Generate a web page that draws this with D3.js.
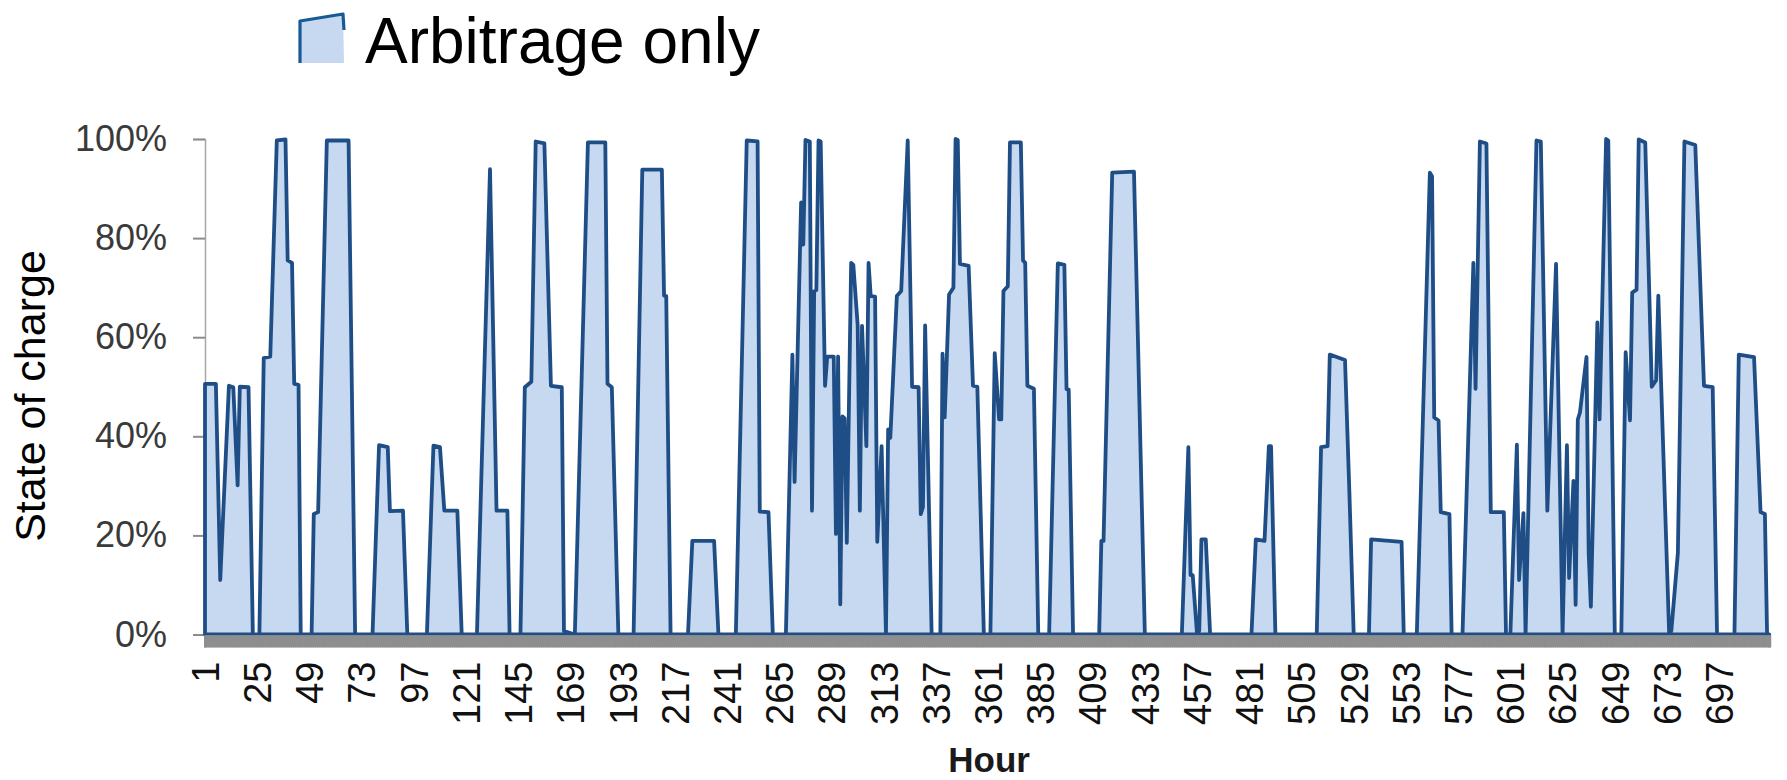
<!DOCTYPE html>
<html>
<head>
<meta charset="utf-8">
<script src="https://cdn.jsdelivr.net/npm/d3@7"></script>
<style>
  html, body { margin: 0; padding: 0; background: #ffffff; }
  svg { display: block; font-family: "Liberation Sans", Arial, sans-serif; }
</style>
</head>
<body>
<svg id="chart" width="1787" height="780"></svg>
<script>
// Battery state of charge, hourly over one month (720 h).
// Hours where the profile changes slope, with the state of charge (%) at that hour;
// the trace runs straight between consecutive hours listed here.
const seriesName = "Arbitrage only";

const hours = [
  1, 6, 8, 12, 14, 16, 17, 21, 23, 26, 28, 31, 34, 38, 39, 41, 42, 44, 45, 50,
  51, 53, 57, 67, 70, 78, 81, 85, 86, 92, 94, 103, 106, 109, 111, 117, 119, 126, 132, 135,
  140, 141, 146, 148, 151, 153, 157, 160, 165, 166, 171, 177, 185, 186, 188, 191, 198, 202, 211, 212,
  213, 215, 223, 225, 235, 237, 245, 250, 255, 256, 260, 262, 268, 271, 272, 275, 276, 277, 279, 280,
  281, 282, 283, 284, 286, 287, 290, 291, 292, 293, 294, 295, 296, 298, 299, 301, 302, 303, 305, 306,
  307, 309, 310, 312, 314, 315, 316, 319, 321, 324, 326, 329, 330, 331, 332, 335, 339, 340, 341, 343,
  345, 346, 347, 348, 352, 354, 356, 359, 362, 364, 366, 367, 368, 370, 371, 376, 377, 378, 379, 382,
  384, 389, 393, 396, 397, 398, 400, 412, 413, 414, 418, 428, 433, 450, 453, 454, 455, 457, 458, 459,
  461, 463, 482, 484, 488, 490, 491, 493, 512, 514, 517, 518, 525, 527, 529, 536, 537, 551, 552, 558,
  564, 565, 566, 568, 569, 573, 574, 579, 584, 585, 587, 590, 592, 598, 599, 601, 604, 605, 607, 608,
  613, 615, 618, 622, 625, 627, 628, 630, 631, 632, 633, 636, 637, 638, 641, 642, 645, 646, 649, 652,
  654, 656, 657, 659, 660, 663, 666, 668, 669, 674, 675, 678, 681, 686, 690, 694, 696, 704, 706, 713,
  716, 718, 719, 720
];

const soc = [
  50.6, 50.6, 11, 50.2, 49.9, 30.1, 50, 49.9, 0, 0, 55.8, 56.1, 99.7, 99.9, 75.5, 75, 50.6, 50.4, 0, 0,
  24.3, 24.7, 99.7, 99.7, 0, 0, 38.2, 37.8, 24.9, 25, 0, 0, 38.1, 37.8, 25, 25, 0, 0, 93.9, 25,
  25, 0, 0, 49.9, 51, 99.5, 99.1, 50.2, 49.9, 0.7, 0, 99.3, 99.3, 50.6, 49.9, 0, 0, 93.8, 93.8, 68.4,
  68.3, 0, 0, 18.9, 18.9, 0, 0, 99.7, 99.5, 24.8, 24.7, 0, 0, 56.5, 30.8, 87.2, 78.7, 99.8, 99.5, 25,
  69.3, 69.5, 99.7, 99.5, 50.2, 56.1, 56.1, 20.3, 56.1, 6.1, 44, 43.6, 18.5, 75, 74.6, 62.4, 25, 62.3, 38, 75,
  68.3, 68.2, 18.7, 38, 0, 41.4, 39.7, 68.3, 69.3, 99.7, 50, 49.9, 24.3, 25.7, 62.4, 0, 0, 56.7, 43.8, 68.6,
  70, 100, 99.8, 74.8, 74.4, 50.2, 50, 0, 0, 56.8, 43.4, 43.4, 69.3, 70.3, 99.3, 99.3, 75.5, 75, 50.2, 49.6,
  0, 0, 74.9, 74.6, 49.5, 49.4, 0, 0, 18.9, 18.9, 93.2, 93.4, 0, 0, 37.8, 12, 12, 0, 0.8, 19.2,
  19.2, 0, 0, 19.2, 18.9, 38, 38, 0, 0, 37.8, 38, 56.5, 55.4, 28.8, 0, 0, 19.2, 18.7, 0, 0,
  93.2, 92.5, 43.8, 43.2, 24.7, 24.3, 0, 0, 75, 49.6, 99.5, 99.1, 24.7, 24.7, 0, 0, 38.3, 11, 24.5, 0,
  99.7, 99.5, 25, 74.8, 0, 38.2, 11.4, 31, 6, 43.4, 44.8, 56, 16.5, 5.6, 63, 43.4, 100, 99.7, 0, 0,
  57, 43.2, 69, 69.6, 99.9, 99.3, 50, 51.3, 68.4, 0, 0.8, 16.5, 99.5, 98.8, 50.2, 49.9, 0, 0, 56.5, 56,
  24.7, 24.3, 0, 0
];

const yTicks = [0, 20, 40, 60, 80, 100];
const xLabelHours = [1, 25, 49, 73, 97, 121, 145, 169, 193, 217, 241, 265, 289, 313, 337,
                     361, 385, 409, 433, 457, 481, 505, 529, 553, 577, 601, 625, 649, 673, 697];
const hourCount = 720;

const lineColor = "#1f4e87";
const fillColor = "#c6d9f0";

const svg = d3.select("#chart");

const x = d3.scaleLinear().domain([1, hourCount]).range([205, 205 + (hourCount - 1) * 2.1756]);
const y = d3.scaleLinear().domain([0, 100]).range([634.5, 139]);

const points = hours.map((h, i) => ({ h, v: soc[i] }));

// y axis: line, tick marks and percentage labels
const yAxis = svg.append("g")
  .attr("transform", `translate(${x(1)},0)`)
  .call(d3.axisLeft(y).tickValues(yTicks).tickSize(12).tickPadding(26)
        .tickFormat(d => d + "%"));
yAxis.select(".domain").attr("stroke", "#a6a6a6").attr("stroke-width", 1.5);
yAxis.selectAll(".tick line").attr("stroke", "#8c8c8c").attr("stroke-width", 2);
yAxis.selectAll(".tick text")
  .attr("fill", "#3a3a3a")
  .style("font-size", "36px")
  .style("font-family", "'Liberation Sans', Arial, sans-serif");

// filled state-of-charge profile with its outline
const area = d3.area()
  .x(d => x(d.h))
  .y0(y(0))
  .y1(d => y(d.v));

svg.append("path")
  .datum(points)
  .attr("d", area)
  .attr("fill", fillColor)
  .attr("stroke", lineColor)
  .attr("stroke-width", 3.8)
  .attr("stroke-linejoin", "round");

// one tick mark per hour along the category axis
const hourTicks = svg.append("g")
  .attr("transform", `translate(0,${y(0) + 1})`)
  .call(d3.axisBottom(x).tickValues(d3.range(1, hourCount + 1)).tickSize(12).tickFormat(""));
hourTicks.select(".domain").attr("stroke", "#8e8e8e").attr("stroke-width", 1.5);
hourTicks.selectAll(".tick line").attr("stroke", "#8e8e8e").attr("stroke-width", 3);

// hour labels, every 24 h, written vertically
const labelAxis = svg.append("g")
  .attr("transform", `translate(0,${y(0)})`)
  .call(d3.axisBottom(x).tickValues(xLabelHours).tickSize(0).tickFormat(d3.format("d")));
labelAxis.select(".domain").remove();
labelAxis.selectAll(".tick text")
  .attr("x", 0)
  .attr("y", 0)
  .attr("dy", "0.35em")
  .attr("transform", "translate(0,27) rotate(-90)")
  .style("text-anchor", "end")
  .style("font-size", "38px")
  .style("font-family", "'Liberation Sans', Arial, sans-serif")
  .attr("fill", "#111111");

// axis titles
svg.append("text")
  .attr("transform", "translate(45,396) rotate(-90)")
  .attr("text-anchor", "middle")
  .style("font-size", "43px")
  .attr("fill", "#000")
  .text("State of charge");

svg.append("text")
  .attr("x", (x(1) + x(hourCount)) / 2 + 2)
  .attr("y", 772)
  .attr("text-anchor", "middle")
  .style("font-size", "35px")
  .style("font-weight", "bold")
  .attr("fill", "#1a1a1a")
  .text("Hour");

// legend
const legend = svg.append("g");
legend.append("path")
  .attr("d", "M300,63 L300,21 L343,14 L344,63 Z")
  .attr("fill", fillColor);
legend.append("path")
  .attr("d", "M300,63 L300,21 L343,14 L344,30")
  .attr("fill", "none")
  .attr("stroke", "#1a5a94")
  .attr("stroke-width", 3.2)
  .attr("stroke-linejoin", "round");
legend.append("text")
  .attr("x", 365)
  .attr("y", 63)
  .style("font-size", "64px")
  .attr("fill", "#000")
  .text(seriesName);
</script>
</body>
</html>
